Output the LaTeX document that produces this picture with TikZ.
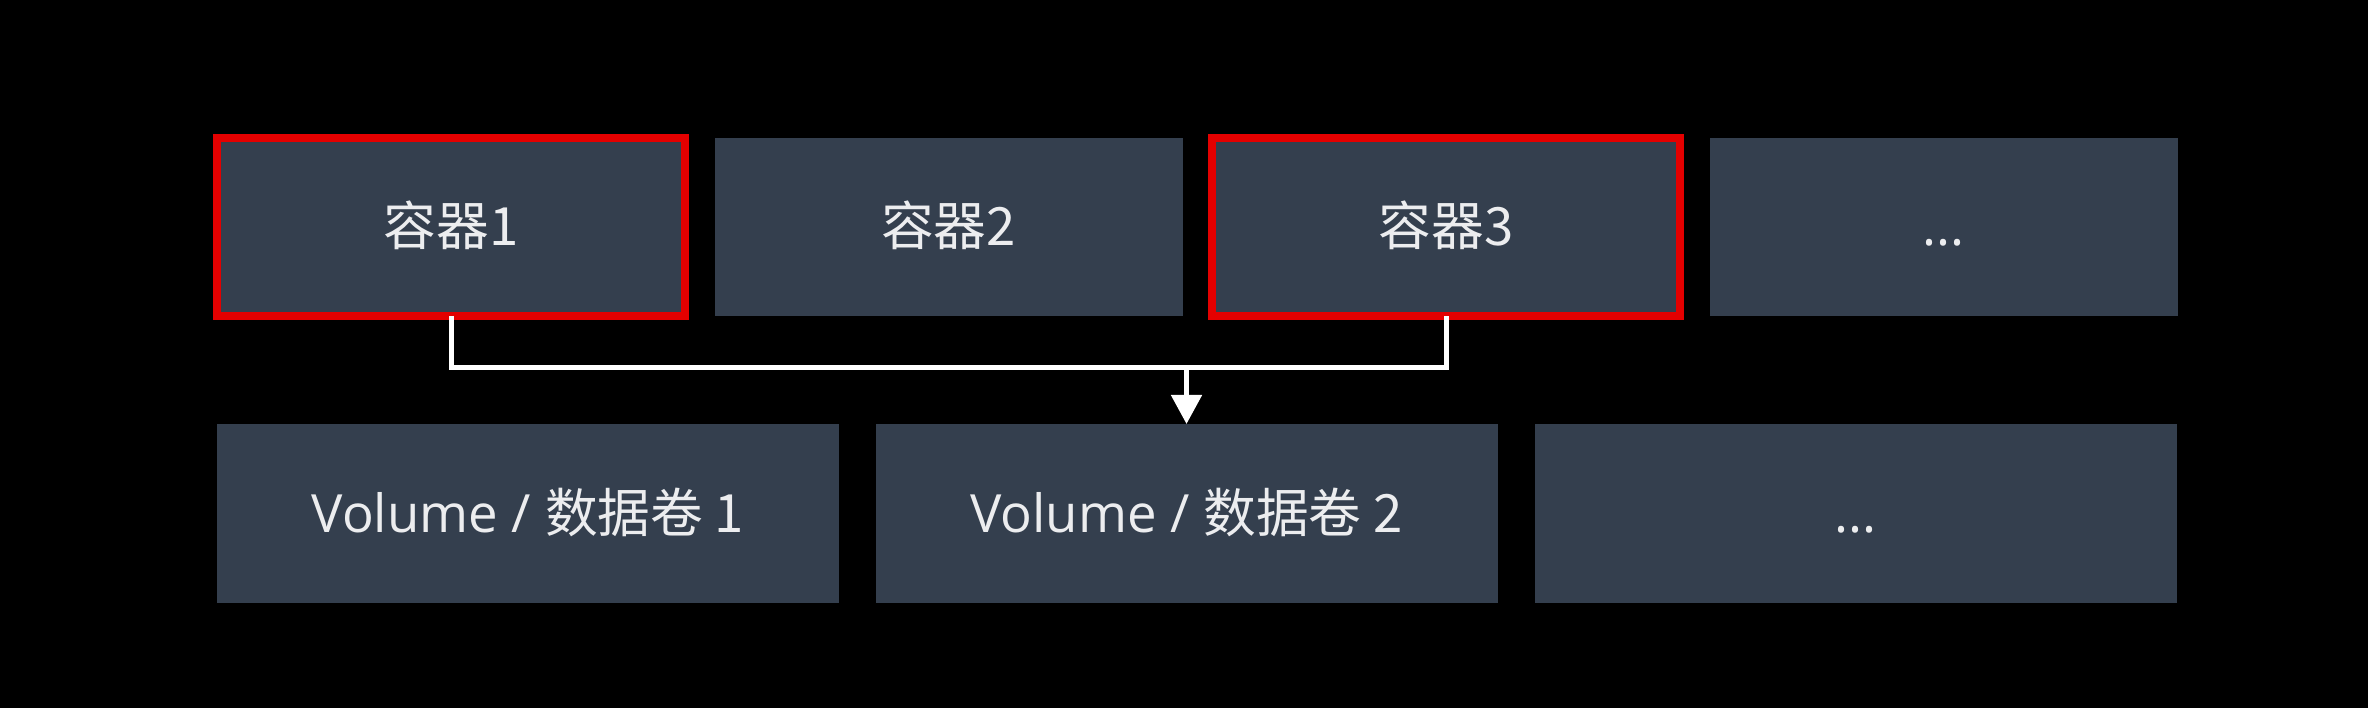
\documentclass[tikz,border=0pt]{standalone}
\usepackage{fontspec}
\setmainfont{Open Sans}
\newfontfamily\cjk{Noto Sans CJK SC}
\usetikzlibrary{positioning,arrows.meta}
\definecolor{boxfill}{RGB}{52,63,78}
\definecolor{boxtext}{RGB}{236,237,239}
\definecolor{pickred}{RGB}{228,0,0}

\begin{document}
\begin{tikzpicture}[>={Triangle[width=0.30cm,length=0.29cm]},
        every node/.style={inner sep=0pt,outer sep=0pt,text=boxtext,
            font=\fontsize{15pt}{18pt}\selectfont,text height=0.48cm,text depth=0.10cm},
        cbox/.style={fill=boxfill,minimum width=4.68cm,minimum height=1.78cm},
        vbox/.style={fill=boxfill,minimum height=1.79cm},
        picked/.style={draw=pickred,line width=0.08cm},
        link/.style={draw=white,line width=0.05cm}]
        \fill[black] (0,0) rectangle (23.68,7.08);
        \useasboundingbox (0,0) rectangle (23.68,7.08);
        % containers
        \node[cbox,picked] (c1) at (4.51,4.81) {\cjk{容器}1};
        \node[cbox,right=0.295cm of c1] (c2) {\cjk{容器}2};
        \node[cbox,picked,right=0.295cm of c2] (c3) {\cjk{容器}3};
        \node[cbox,right=0.295cm of c3] (c4) {...};
        % volumes
        \node[vbox,minimum width=6.22cm,below=1.08cm of c1.south west,anchor=north west] (v1) {Volume / \cjk{数据卷} 1};
        \node[vbox,minimum width=6.22cm,right=0.365cm of v1] (v2) {Volume / \cjk{数据卷} 2};
        \node[vbox,minimum width=6.42cm,right=0.37cm of v2] (v3) {...};
        % shared mount
        \coordinate (joint) at ([yshift=-0.52cm]c1.south);
        \draw[link] (c1.south) -- (joint) -| (c3.south);
        \draw[link,->] (v2.north |- joint) -- (v2.north);
    \end{tikzpicture}
\end{document}
